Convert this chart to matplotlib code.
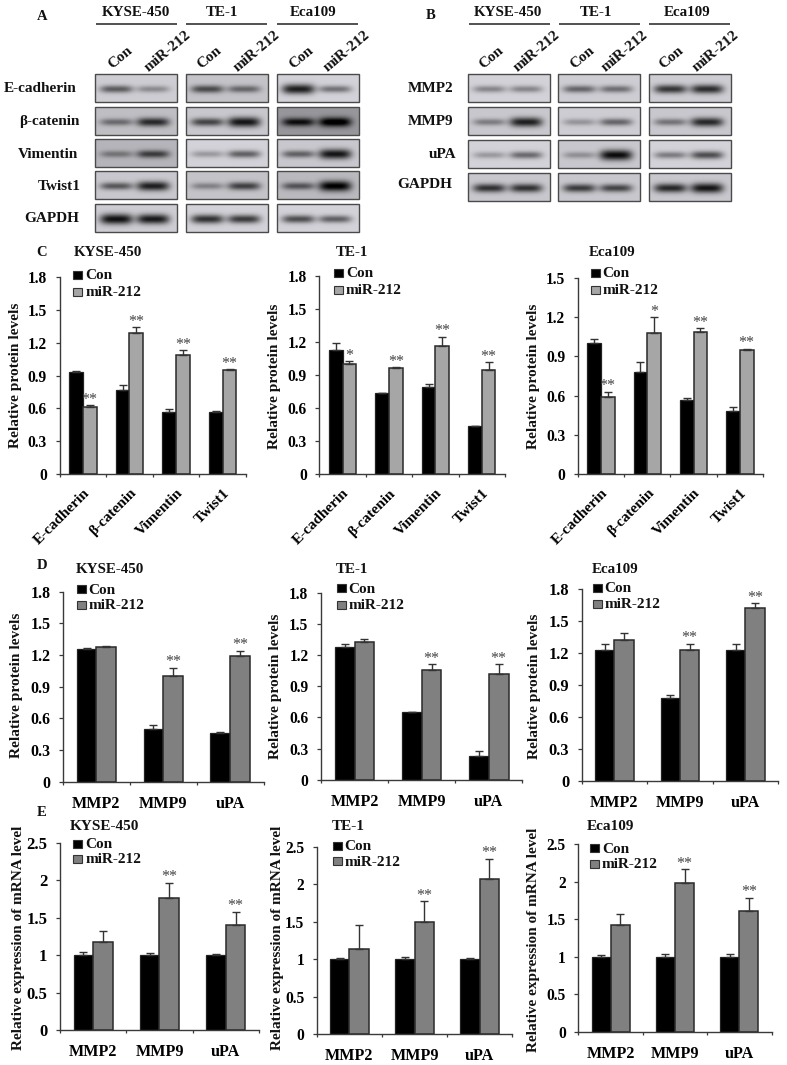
"""
Figure rebuild: western blots (A, B) and bar charts of protein / mRNA levels (C, D, E)
for KYSE-450, TE-1 and Eca109 cells, Con vs miR-212.
"""

import numpy as np
import matplotlib
matplotlib.use("Agg")
import matplotlib.pyplot as plt
from matplotlib.colors import LinearSegmentedColormap
from matplotlib.patches import Rectangle

plt.rcParams['font.family'] = ['Liberation Serif', 'DejaVu Serif']
plt.rcParams['font.weight'] = 'bold'

# ── Data ──────────────────────────────────────────────────────────────────────

CELLS = ["KYSE-450", "TE-1", "Eca109"]
EMT_GENES = ["E-cadherin", "β-catenin", "Vimentin", "Twist1"]
MMP_GENES = ["MMP2", "MMP9", "uPA"]

# Panel C
C_CON = [[0.93, 0.77, 0.57, 0.57], [1.13, 0.74, 0.79, 0.44], [1.00, 0.78, 0.57, 0.48]]
C_CON_ERR = [[0.01, 0.04, 0.02, 0.002], [0.06, 0.002, 0.03, 0.003], [0.03, 0.08, 0.015, 0.03]]
C_MIR = [[0.61, 1.29, 1.09, 0.95], [1.00, 0.97, 1.17, 0.95], [0.59, 1.08, 1.09, 0.95]]
C_MIR_ERR = [[0.02, 0.05, 0.04, 0.005], [0.03, 0.005, 0.08, 0.07], [0.04, 0.12, 0.025, 0.01]]
C_STARS = [["**", "**", "**", "**"], ["*", "**", "**", "**"], ["**", "*", "**", "**"]]

# Panel D
D_CON = [[1.26, 0.50, 0.46], [1.28, 0.65, 0.23], [1.23, 0.78, 1.23]]
D_CON_ERR = [[0.005, 0.04, 0.01], [0.03, 0.003, 0.05], [0.06, 0.03, 0.06]]
D_MIR = [[1.28, 1.00, 1.19], [1.33, 1.06, 1.02], [1.32, 1.23, 1.62]]
D_MIR_ERR = [[0.005, 0.08, 0.05], [0.02, 0.05, 0.09], [0.07, 0.06, 0.05]]
D_STARS = [["", "**", "**"], ["", "**", "**"], ["", "**", "**"]]

# Panel E
E_CON = [[1.00, 1.00, 1.00], [1.00, 1.00, 1.00], [1.00, 1.00, 1.00]]
E_CON_ERR = [[0.04, 0.03, 0.02], [0.015, 0.03, 0.015], [0.02, 0.04, 0.03]]
E_MIR = [[1.18, 1.76, 1.41], [1.13, 1.49, 2.07], [1.42, 1.99, 1.61]]
E_MIR_ERR = [[0.14, 0.21, 0.17], [0.32, 0.28, 0.27], [0.15, 0.18, 0.18]]
E_STARS = [["", "**", "**"], ["", "**", "**"], ["", "**", "**"]]

TICKS_C_18 = [0, 0.3, 0.6, 0.9, 1.2, 1.5, 1.8]
TICKS_C_15 = [0, 0.3, 0.6, 0.9, 1.2, 1.5]
TICKS_E = [0, 0.5, 1, 1.5, 2, 2.5]
TICK_TEXT_18 = ["0", "0.3", "0.6", "0.9", "1.2", "1.5", "1.8"]
TICK_TEXT_15 = ["0", "0.3", "0.6", "0.9", "1.2", "1.5"]
TICK_TEXT_E = ["0", "0.5", "1", "1.5", "2", "2.5"]

# Blots: band strength (con, mir) and membrane brightness, rows by cell line
BLOT_A_ROWS = ["E-cadherin", "β-catenin", "Vimentin", "Twist1", "GAPDH"]
BLOT_A_BANDS = [
    [(0.60, 0.35), (0.65, 0.50), (0.95, 0.50)],
    [(0.45, 0.80), (0.70, 0.95), (0.75, 0.90)],
    [(0.35, 0.65), (0.30, 0.60), (0.55, 0.95)],
    [(0.60, 0.90), (0.35, 0.70), (0.55, 1.00)],
    [(1.00, 0.95), (0.85, 0.80), (0.70, 0.60)],
]
BLOT_A_BG = [
    [0.84, 0.80, 0.86],
    [0.78, 0.82, 0.62],
    [0.74, 0.86, 0.82],
    [0.82, 0.80, 0.76],
    [0.84, 0.86, 0.86],
]
BLOT_B_ROWS = ["MMP2", "MMP9", "uPA", "GAPDH"]
BLOT_B_BANDS = [
    [(0.40, 0.40), (0.55, 0.50), (0.80, 0.85)],
    [(0.40, 0.90), (0.30, 0.55), (0.45, 0.85)],
    [(0.30, 0.55), (0.30, 1.00), (0.45, 0.70)],
    [(0.80, 0.80), (0.75, 0.70), (0.85, 0.95)],
]
BLOT_B_BG = [
    [0.86, 0.84, 0.84],
    [0.82, 0.84, 0.82],
    [0.86, 0.82, 0.86],
    [0.82, 0.82, 0.82],
]

# ── Layout (reference pixels) ─────────────────────────────────────────────────

W, H = 787, 1065
SPINE = "#3a3a3a"
GRAY_C = "#a6a6a6"
GRAY_DE = "#808080"
STAR = "#444444"
BLOT_CMAP = LinearSegmentedColormap.from_list("blot", ["#000000", "#f4f4fb"])

fig = plt.figure(figsize=(W / 100, H / 100), dpi=100, facecolor="white")
page = fig.add_axes([0, 0, 1, 1], zorder=5)
page.set_xlim(0, W)
page.set_ylim(H, 0)
page.axis("off")


def put(x, y, s, size=10.8, ha="center", **kw):
    page.text(x, y, s, fontsize=size, ha=ha, va="center", color="#111111", **kw)


# ── Blots ─────────────────────────────────────────────────────────────────────

def blot_image(bands, bg):
    """Grey membrane with two soft horizontal bands."""
    xx, yy = np.meshgrid(np.linspace(0, 1, 120), np.linspace(0, 1, 42))
    img = np.full(xx.shape, bg, dtype=float)
    for cx, strength in zip((0.26, 0.71), bands):
        thick = 0.12 + 0.07 * strength ** 3
        shape = np.exp(-((xx - cx) / 0.20) ** 4) * np.exp(-((yy - 0.54) / thick) ** 2)
        img -= strength * 0.78 * shape
    return np.clip(img, 0, 1)


def draw_blot(cols, rows, bands, bgs):
    for r, (top, bottom) in enumerate(rows):
        for c, (left, right) in enumerate(cols):
            page.imshow(blot_image(bands[r][c], bgs[r][c]), cmap=BLOT_CMAP, vmin=0, vmax=1,
                        extent=[left, right, bottom, top], aspect="auto",
                        interpolation="bilinear", zorder=1)
            page.add_patch(Rectangle((left, top), right - left, bottom - top, fill=False,
                                     edgecolor="#4a4a4a", linewidth=1.0, zorder=2))
    page.set_xlim(0, W)
    page.set_ylim(H, 0)


def draw_blot_header(lines, title_x, con_x, mir_x):
    for name, (x0, x1), tx, cx, mx in zip(CELLS, lines, title_x, con_x, mir_x):
        page.plot([x0, x1], [24.3, 24.3], color="#222222", lw=1.1, solid_capstyle="butt")
        put(tx, 12.5, name, size=10.8)
        put(cx, 58, "Con", size=11, rotation=40, rotation_mode="anchor")
        put(mx, 51, "miR-212", size=11, rotation=40, rotation_mode="anchor")


draw_blot([(95.3, 177), (186, 267.7), (276.7, 358.7)],
          [(74.3, 102), (106.7, 134.7), (139, 166.7), (171.3, 199.3), (204, 232)],
          BLOT_A_BANDS, BLOT_A_BG)
draw_blot_header([(96, 176.7), (186, 267), (276.7, 357.7)],
                 [136, 221.7, 312.7], [120, 209, 301], [168, 257, 347])
for label, x, y in zip(BLOT_A_ROWS, [76.7, 79, 77.7, 81, 79.3], [88.5, 121.5, 154.5, 186.5, 218.5]):
    put(x, y, label, size=11, ha="right")

draw_blot([(468.3, 550), (558.3, 640), (649, 731)],
          [(74.3, 102.3), (107, 135), (140, 167.7), (172.7, 200.7)],
          BLOT_B_BANDS, BLOT_B_BG)
draw_blot_header([(469, 549.7), (559, 640), (649.3, 730)],
                 [508.3, 596, 687.3], [491.7, 582.7, 671.7], [536.7, 625, 716])
for label, x, y in zip(BLOT_B_ROWS, [453.3, 453.3, 456.7, 452], [88.5, 121.5, 154.5, 184.5]):
    put(x, y, label, size=11, ha="right")

for letter, x, y in [("A", 42, 16), ("B", 431, 15.5), ("C", 42, 252.5), ("D", 41.7, 565.5), ("E", 41.7, 812.5)]:
    put(x, y, letter, size=10.5)


# ── Bar charts ────────────────────────────────────────────────────────────────

def draw_bars(box, con, con_err, mir, mir_err, stars, genes, ticks, tick_text, gray,
              tick_size, rotate=False):
    x0, x1, y0, ytop = box
    ax = fig.add_axes([x0 / W, 1 - y0 / H, (x1 - x0) / W, (y0 - ytop) / H])
    n = len(genes)
    pos = np.arange(n) + 0.5
    width = 0.295

    ax.bar(pos - width / 2, con, width, color="black", edgecolor="#222222", linewidth=0.9)
    ax.bar(pos + width / 2, mir, width, color=gray, edgecolor="#2a2a2a", linewidth=1.1)
    for offs, vals, errs in ((-width / 2, con, con_err), (width / 2, mir, mir_err)):
        ax.errorbar(pos + offs, vals, yerr=[np.zeros(n), errs], fmt="none", ecolor="#333333",
                    elinewidth=1.0, capsize=3.2, capthick=1.0)
    for p, v, e, s in zip(pos, mir, mir_err, stars):
        if s:
            ax.annotate(s, (p + width / 2, v + e), xytext=(0, 1.0), textcoords="offset points",
                        ha="center", va="baseline", fontsize=11.5, color=STAR, fontweight="normal")

    ax.set_xlim(0, n)
    ax.set_ylim(0, ticks[-1])
    ax.set_yticks(ticks)
    ax.set_yticklabels(tick_text, fontsize=tick_size)
    ax.set_xticks(np.arange(n + 1))
    ax.set_xticklabels([])
    ax.set_xticks(pos, minor=True)
    if rotate:
        ax.set_xticklabels(genes, minor=True, fontsize=11, rotation=45, ha="right",
                           rotation_mode="anchor")
        ax.tick_params(axis="x", which="minor", length=0, pad=9)
    else:
        ax.set_xticklabels(genes, minor=True, fontsize=11.6)
        ax.tick_params(axis="x", which="minor", length=0, pad=10)
    ax.tick_params(axis="y", length=3, width=0.9, pad=6, color=SPINE)
    ax.tick_params(axis="x", which="major", length=2.5, width=0.9, color=SPINE)
    for side in ("top", "right"):
        ax.spines[side].set_visible(False)
    for side in ("left", "bottom"):
        ax.spines[side].set_color(SPINE)
        ax.spines[side].set_linewidth(1.0)
    ax.patch.set_alpha(0)
    return ax


def draw_legend(x, y_con, y_mir, gray):
    for y, color, label in ((y_con, "black", "Con"), (y_mir, gray, "miR-212")):
        page.add_patch(Rectangle((x, y - 4), 9, 8, facecolor=color, edgecolor="#333333", linewidth=0.8))
        put(x + 12, y + 0.8, label, size=11, ha="left")


# panel C
boxes_c = [(59.5, 246, 474, 277), (319.3, 505, 474.3, 276.3), (577.7, 763, 474, 278)]
ticks_c = [(TICKS_C_18, TICK_TEXT_18), (TICKS_C_18, TICK_TEXT_18), (TICKS_C_15, TICK_TEXT_15)]
for i in range(3):
    draw_bars(boxes_c[i], C_CON[i], C_CON_ERR[i], C_MIR[i], C_MIR_ERR[i], C_STARS[i], EMT_GENES,
              ticks_c[i][0], ticks_c[i][1], GRAY_C, 11.2, rotate=True)
    put([107.7, 351.7, 611.7][i], 252.5, CELLS[i], size=10.8)
    put([15.5, 274.8, 533.8][i], [375, 376.7, 376.7][i], "Relative protein levels", size=11.1, rotation=90)
draw_legend(73.3, 275, 292, GRAY_C)
draw_legend(334, 272.7, 290, GRAY_C)
draw_legend(590.7, 272.7, 290, GRAY_C)

# panel D
boxes_d = [(63, 263.5, 781.7, 591.7), (321, 522.3, 779.7, 592.7), (581.7, 778, 780.7, 589.3)]
for i in range(3):
    draw_bars(boxes_d[i], D_CON[i], D_CON_ERR[i], D_MIR[i], D_MIR_ERR[i], D_STARS[i], MMP_GENES,
              TICKS_C_18, TICK_TEXT_18, GRAY_DE, [11.4, 11.2, 11.8][i])
    put([110, 352.3, 615][i], 569.5, CELLS[i], size=10.8)
    put([16.5, 275, 534.2][i], [685, 686.7, 686][i], "Relative protein levels", size=11.1, rotation=90)
draw_legend(76.7, 589.3, 605, GRAY_DE)
draw_legend(336.7, 588.3, 605, GRAY_DE)
draw_legend(592.7, 588, 604, GRAY_DE)

# panel E
boxes_e = [(60, 259, 1030, 843), (316.7, 512.3, 1034, 846.7), (578.3, 771.7, 1031.7, 844.3)]
for i in range(3):
    draw_bars(boxes_e[i], E_CON[i], E_CON_ERR[i], E_MIR[i], E_MIR_ERR[i], E_STARS[i], MMP_GENES,
              TICKS_E, TICK_TEXT_E, GRAY_DE, [12, 11.2, 11.2][i])
    put([104.3, 348.3, 610][i], 826.5, CELLS[i], size=11)
    put([18.8, 277, 533.5][i], [938, 938, 940][i], "Relative expression of mRNA level", size=11, rotation=90)
draw_legend(73.3, 844, 859, GRAY_DE)
draw_legend(332.7, 845.7, 861.3, GRAY_DE)
draw_legend(590, 848.3, 864, GRAY_DE)

fig.savefig("out.png", dpi=100, facecolor="white")
